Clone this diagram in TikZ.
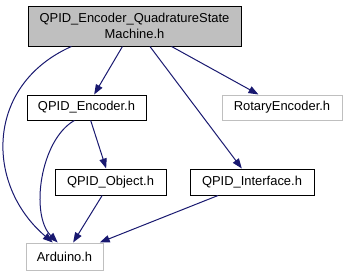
\documentclass[tikz,border=0pt]{standalone}
\usepackage{fontspec}
\setmainfont{Liberation Sans}
\usetikzlibrary{arrows.meta}
\definecolor{edgeblue}{RGB}{25,25,112}
\definecolor{grey75}{RGB}{191,191,191}
\tikzset{
    % file boxes
    fbox/.style={rectangle, draw=black, fill=white, line width=0.75pt,
                 inner sep=0pt, align=center, font=\fontsize{9.7}{12}\selectfont},
    curfile/.style={fbox, fill=grey75},
    extfile/.style={fbox, draw=grey75},
    % include arrows
    incarrow/.style={-{Triangle[length=7.5pt, width=5.5pt]}, line width=0.75pt, edgeblue},
}
\begin{document}
\begin{tikzpicture}[x=0.75pt, y=-0.75pt]
\useasboundingbox (0,0) rectangle (346,276);

\node[curfile, minimum width=159.75pt, minimum height=30pt] (top)  at (134.5,26)
    {QPID\_Encoder\_QuadratureState\\Machine.h};
\node[fbox,    minimum width=89.25pt, minimum height=18.75pt] (enc)  at (86.5,107.5) {QPID\_Encoder.h};
\node[extfile, minimum width=90pt,    minimum height=18.75pt] (rot)  at (282,107.5)  {RotaryEncoder.h};
\node[fbox,    minimum width=83.25pt, minimum height=19.5pt]  (obj)  at (110.5,182)  {QPID\_Object.h};
\node[fbox,    minimum width=93pt,    minimum height=19.5pt]  (intf) at (252,182)    {QPID\_Interface.h};
\node[extfile, minimum width=57.75pt, minimum height=20.25pt] (ard)  at (64.5,256.5) {Arduino.h};

\draw[incarrow] (top) -- (enc);
\draw[incarrow] (top) -- (rot);
\draw[incarrow] (top) -- (intf);
\draw[incarrow] (top.198) .. controls (-15,85) and (-15,185) .. (ard.130);
\draw[incarrow] (enc) -- (obj);
\draw[incarrow] (enc.227) .. controls (40,140) and (30,215) .. (ard.116);
\draw[incarrow] (obj) -- (ard);
\draw[incarrow] (intf) -- (ard);
\end{tikzpicture}
\end{document}
